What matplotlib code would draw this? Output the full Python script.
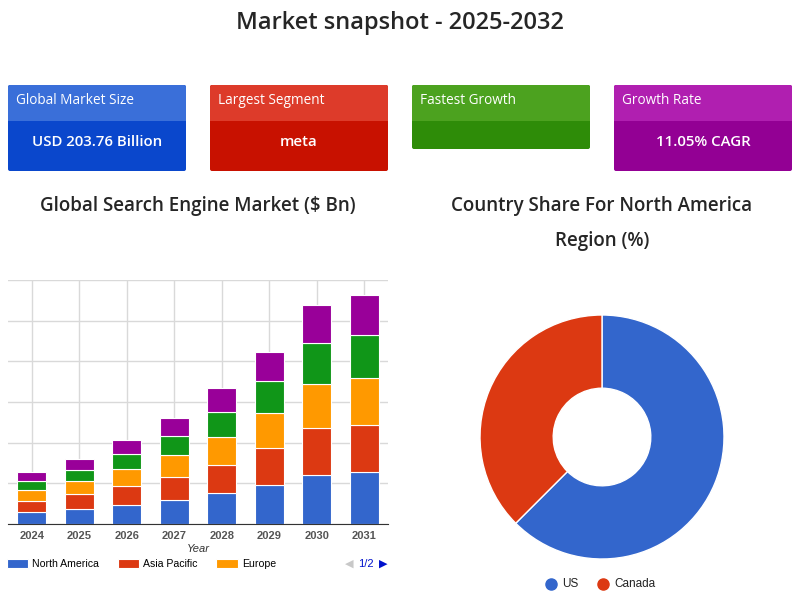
import numpy as np
import matplotlib
matplotlib.use("Agg")
import matplotlib.pyplot as plt
from matplotlib.patches import FancyBboxPatch, Rectangle

# data
years = ["2024", "2025", "2026", "2027", "2028", "2029", "2030", "2031"]
north_america = [6.1, 7.5, 9.5, 12.0, 15.1, 19.0, 23.9, 25.4]
asia_pacific = [5.2, 7.2, 9.0, 11.3, 14.1, 18.4, 23.1, 23.4]
europe = [5.4, 6.4, 8.4, 10.5, 13.6, 17.1, 21.8, 23.0]
latin_america = [4.3, 5.7, 7.4, 9.5, 12.5, 15.7, 20.2, 21.0]
mea = [4.4, 5.1, 7.0, 9.0, 11.6, 14.6, 18.9, 19.8]
series_names = ["North America", "Asia Pacific", "Europe", "Latin America", "Middle East & Africa"]
series_colors = ["#3366cc", "#dc3912", "#ff9900", "#109618", "#990099"]

countries = ["US", "Canada"]
country_share = [62.5, 37.5]
country_colors = ["#3366cc", "#dc3912"]

cards = [
    ("Global Market Size", "USD 203.76 Billion", "#3a6fd9", "#0a47cc"),
    ("Largest Segment", "meta", "#dd3b2a", "#c81100"),
    ("Fastest Growth", "", "#4ca21f", "#2e8c08"),
    ("Growth Rate", "11.05% CAGR", "#b01fb0", "#930094"),
]

W, H = 800, 616
fig = plt.figure(figsize=(W / 100, H / 100), dpi=100)
fig.patch.set_facecolor("white")

# overlay for cards and titles, pixel coordinates
ov = fig.add_axes([0, 0, 1, 1])
ov.set_xlim(0, W)
ov.set_ylim(H, 0)
ov.axis("off")

ov.text(400, 23, "Market snapshot - 2025-2032", ha="center", va="center",
        fontsize=17, fontweight="semibold", family="Open Sans", color="#262626")

card_x = [8, 210, 412, 614]
card_w = 178
for (head, val, c_head, c_body), x in zip(cards, card_x):
    y0 = 85
    h = 64 if val == "" else 86
    body = FancyBboxPatch((x + 2, y0 + 2), card_w - 4, h - 4,
                          boxstyle="round,pad=2", fc=c_body, ec="none")
    ov.add_patch(body)
    top = FancyBboxPatch((x + 2, y0 + 2), card_w - 4, 32,
                         boxstyle="round,pad=2", fc=c_head, ec="none")
    ov.add_patch(top)
    ov.add_patch(Rectangle((x, y0 + 20), card_w, 16, fc=c_head, ec="none"))
    ov.text(x + 8, y0 + 16, head, ha="left", va="center", fontsize=9.8,
            family="Open Sans", color="white")
    if val:
        ov.text(x + card_w / 2, y0 + 57, val, ha="center", va="center",
                fontsize=10.8, fontweight="semibold", family="Open Sans", color="white")

for txt, cx, cy in [("Global Search Engine Market ($ Bn)", 198, 206),
                    ("Country Share For North America", 602, 206),
                    ("Region (%)", 602, 241)]:
    ov.text(cx, cy, txt, ha="center", va="center", fontsize=13.5,
            fontweight="semibold", family="Open Sans", color="#262626")

# stacked bar chart
ax = fig.add_axes([8 / W, 1 - 524 / H, 380 / W, 244 / H])
x = np.arange(len(years))
bottom = np.zeros(len(years))
handles = []
for name, vals, col in zip(series_names,
                           [north_america, asia_pacific, europe, latin_america, mea],
                           series_colors):
    b = ax.bar(x, vals, 0.62, bottom=bottom, color=col, edgecolor="white",
               linewidth=0.8, label=name, zorder=3)
    handles.append(b)
    bottom += np.array(vals)
ax.set_xlim(-0.5, len(years) - 0.5)
ax.set_ylim(0, 120)
ax.set_yticks(np.arange(0, 121, 20))
ax.set_yticklabels([])
ax.tick_params(axis="y", length=0)
ax.set_xticks(x)
ax.set_xticklabels(years, fontsize=8, fontweight="bold", color="#555555",
                   family="Liberation Sans")
ax.tick_params(axis="x", length=0, pad=5)
ax.grid(True, color="#d9d9d9", linewidth=1, zorder=0)
for s in ["top", "right", "left"]:
    ax.spines[s].set_visible(False)
ax.spines["bottom"].set_color("#333333")
ax.spines["bottom"].set_zorder(4)
ax.set_xlabel("Year", fontsize=8, style="italic", color="#333333",
              family="Liberation Sans", labelpad=2)

fig.legend(handles[:3], series_names[:3], loc="center left",
           bbox_to_anchor=(-3 / W, 1 - 564 / H), ncol=3, frameon=False,
           prop={"family": "Liberation Sans", "size": 7.6}, handlelength=2.0,
           handleheight=0.85, handletextpad=0.4, columnspacing=1.8)
ov.text(349, 564, "◀", ha="center", va="center", fontsize=8, color="#c8c8c8")
ov.text(366, 564, "1/2", ha="center", va="center", fontsize=8, color="#0011cc",
        family="Liberation Sans")
ov.text(383, 564, "▶", ha="center", va="center", fontsize=8, color="#0011cc")

# donut chart
pa = fig.add_axes([480 / W, 1 - 559 / H, 244 / W, 244 / H])
pa.pie(country_share, colors=country_colors, startangle=90, counterclock=False,
       radius=1, wedgeprops=dict(width=0.6, edgecolor="white", linewidth=1))
pa.set_xlim(-1, 1)
pa.set_ylim(-1, 1)
pa.set_aspect("equal")

for cname, col, cx in zip(countries, country_colors, [551, 603]):
    ov.plot([cx], [584], marker="o", markersize=8, color=col, linestyle="none")
    ov.text(cx + 11, 584, cname, ha="left", va="center", fontsize=8.5,
            family="Liberation Sans", color="#222222")

fig.savefig("out.png", dpi=100)
